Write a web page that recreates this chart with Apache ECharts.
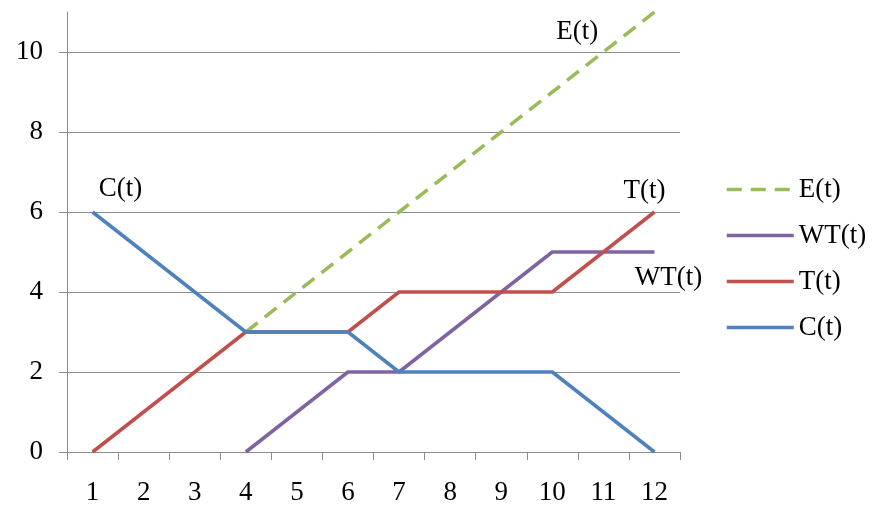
<!DOCTYPE html>
<html>
<head>
<meta charset="utf-8">
<script src="https://cdn.jsdelivr.net/npm/echarts@6/dist/echarts.min.js"></script>
<style>
  html, body { margin: 0; padding: 0; background: #fff; }
  #chart { width: 874px; height: 506px; }
</style>
</head>
<body>
<div id="chart"></div>
<script>
// Time steps along the x axis
const categories = ['1', '2', '3', '4', '5', '6', '7', '8', '9', '10', '11', '12'];
// Series values per time step (null = no point)
const eValues  = [null, null, null, 3, 4, 5, 6, 7, 8, 9, 10, 11];
const wtValues = [null, null, null, 0, 1, 2, 2, 3, 4, 5, 5, 5];
const tValues  = [0, 1, 2, 3, 3, 3, 4, 4, 4, 4, 5, 6];
const cValues  = [6, 5, 4, 3, 3, 3, 2, 2, 2, 2, 1, 0];
// Y axis tick values
const yTicks = [0, 2, 4, 6, 8, 10];

const FONT = "'Liberation Serif', 'Times New Roman', serif";
const AXIS_GRAY = '#8c8c8c';
const LINE_W = 3.5;

// In-plot name tags, anchored to a data point and nudged off it
function nameTag(text, coord, offset) {
  return {
    symbol: 'circle',
    symbolSize: 1,
    itemStyle: { color: 'rgba(0,0,0,0)' },
    label: {
      show: true,
      position: 'inside',
      formatter: text,
      offset: offset,
      color: '#000',
      fontFamily: FONT,
      fontSize: 27
    },
    data: [{ coord: coord }]
  };
}

const chart = echarts.init(document.getElementById('chart'), null, { renderer: 'canvas' });

chart.setOption({
  animation: false,
  backgroundColor: '#fff',
  grid: { left: 67, right: 194, top: 12, bottom: 54, containLabel: false },
  legend: {
    orient: 'vertical',
    left: 720,
    top: 171,
    itemWidth: 67,
    itemHeight: 14,
    itemGap: 19,
    data: ['E(t)', 'WT(t)', 'T(t)', 'C(t)'],
    itemStyle: { opacity: 0 },
    lineStyle: { width: LINE_W },
    textStyle: { fontFamily: FONT, fontSize: 27, color: '#000', lineHeight: 27 }
  },
  xAxis: {
    type: 'category',
    data: categories,
    boundaryGap: true,
    axisLine: { lineStyle: { color: AXIS_GRAY, width: 1 } },
    axisTick: { show: true, length: 8, lineStyle: { color: AXIS_GRAY } },
    axisLabel: { margin: 27, color: '#000', fontFamily: FONT, fontSize: 27, interval: 0 },
    splitLine: { show: false }
  },
  yAxis: {
    type: 'value',
    min: 0,
    max: 11,
    interval: 2,
    axisLine: { show: true, lineStyle: { color: AXIS_GRAY, width: 1 } },
    axisTick: { show: true, length: 8, lineStyle: { color: AXIS_GRAY }, customValues: yTicks },
    axisLabel: { margin: 24, color: '#000', fontFamily: FONT, fontSize: 27, customValues: yTicks },
    splitLine: { show: true, lineStyle: { color: AXIS_GRAY, width: 1 } }
  },
  series: [
    {
      name: 'E(t)', type: 'line', data: eValues, showSymbol: false, symbol: 'none',
      color: '#9BBB59',
      lineStyle: { color: '#9BBB59', width: LINE_W, type: [15, 9], cap: 'butt' },
      markPoint: nameTag('E(t)', ['10', 10], [25, -20])
    },
    {
      name: 'WT(t)', type: 'line', data: wtValues, showSymbol: false, symbol: 'none',
      color: '#8064A2',
      lineStyle: { color: '#8064A2', width: LINE_W },
      markPoint: nameTag('WT(t)', ['12', 5], [14, 26])
    },
    {
      name: 'T(t)', type: 'line', data: tValues, showSymbol: false, symbol: 'none',
      color: '#C0504D',
      lineStyle: { color: '#C0504D', width: LINE_W },
      markPoint: nameTag('T(t)', ['12', 6], [-10, -21])
    },
    {
      name: 'C(t)', type: 'line', data: cValues, showSymbol: false, symbol: 'none',
      color: '#4F81BD',
      lineStyle: { color: '#4F81BD', width: LINE_W },
      markPoint: nameTag('C(t)', ['1', 6], [28, -23])
    }
  ]
});
</script>
</body>
</html>
